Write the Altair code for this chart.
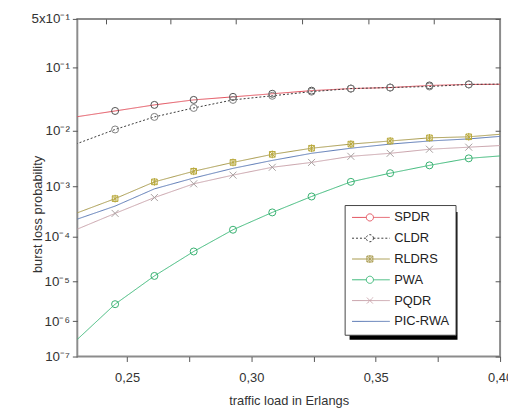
import altair as alt
import pandas as pd

FONT = "Liberation Sans"

# ---- data ----
x_load = [0.2294, 0.2452, 0.2610, 0.2768, 0.2926, 0.3084, 0.3242, 0.3400, 0.3558, 0.3716, 0.3874, 0.4032]
series_names = ["SPDR", "CLDR", "RLDRS", "PWA", "PQDR", "PIC-RWA"]
spdr = [0.0168, 0.0210, 0.0263, 0.0316, 0.0353, 0.0395, 0.0442, 0.0476, 0.0494, 0.0532, 0.0552, 0.0555]
cldr = [0.00586, 0.0104, 0.0168, 0.0235, 0.0316, 0.0367, 0.0426, 0.0476, 0.0494, 0.0513, 0.0552, 0.0560]
rldrs = [3.02e-4, 5.90e-4, 1.23e-3, 1.93e-3, 2.79e-3, 3.88e-3, 4.97e-3, 5.86e-3, 6.63e-3, 7.50e-3, 7.82e-3, 8.84e-3]
pwa = [2.87e-7, 2.75e-6, 1.34e-5, 4.80e-5, 1.40e-4, 3.16e-4, 6.49e-4, 1.23e-3, 1.78e-3, 2.47e-3, 3.30e-3, 3.73e-3]
pqdr = [1.40e-4, 3.02e-4, 6.19e-4, 1.13e-3, 1.64e-3, 2.28e-3, 2.79e-3, 3.58e-3, 4.05e-3, 4.77e-3, 5.18e-3, 5.62e-3]
picrwa = [2.26e-4, 4.22e-4, 9.08e-4, 1.45e-3, 2.18e-3, 3.03e-3, 4.05e-3, 4.97e-3, 5.86e-3, 6.63e-3, 7.20e-3, 8.15e-3]

y_tick_values = [1e-7, 1e-6, 1e-5, 1e-4, 1e-3, 1e-2, 1e-1, 0.5]
y_tick_labels = ["10⁻⁷", "10⁻⁶", "10⁻⁵", "10⁻⁴", "10⁻³", "10⁻²", "10⁻¹", "5x10⁻¹"]
x_tick_values = [0.25, 0.275, 0.30, 0.325, 0.35, 0.375, 0.40]
x_tick_labels = ["0,25", "", "0,30", "", "0,35", "", "0,40"]
top_tick_values = [0.2416, 0.2675, 0.2937, 0.3205, 0.3472, 0.3735]

# ---- styles ----
line_colors = ["#e2505c", "#3a3a3a", "#a89a4c", "#3cb878", "#c8a2aa", "#5a78b4"]
line_dash = [[1, 0], [2, 2], [1, 0], [1, 0], [1, 0], [1, 0]]
marker_colors = ["#505050", "#808080", "#b8a83a", "#38b070", "#a8a0a0", None]
marker_shapes = [
    "circle",
    "circle",
    "M-0.8,-0.8H0.8V0.8H-0.8ZM-0.8,-0.8L0.8,0.8M-0.8,0.8L0.8,-0.8M0,-1.1V1.1",
    "circle",
    "M-1,-1L1,1M-1,1L1,-1",
    None,
]
circ = "M-1,0H3.8M6.2,0H11.7M6.2,0A1.2,1.2,0,1,1,3.8,0A1.2,1.2,0,1,1,6.2,0"
legend_paths = [
    circ,
    circ,
    "M-1,0H11.7M4,-1H6V1H4ZM4,-1L6,1M4,1L6,-1M5,-1.3V1.3",
    circ,
    "M-1,0H11.7M4,-1L6,1M4,1L6,-1",
    "M-1,0H11.7",
]

rows = []
for name, vals in zip(series_names, [spdr, cldr, rldrs, pwa, pqdr, picrwa]):
    for i, (x, v) in enumerate(zip(x_load, vals)):
        rows.append({"series": name, "load": x, "p": v, "idx": i})
df = pd.DataFrame(rows)


def label_expr(values, labels, tol):
    expr = "''"
    for v, lab in reversed(list(zip(values, labels))):
        expr = f"abs(datum.value - {v}) < {tol(v)} ? '{lab}' : ({expr})"
    return expr


y_label_expr = label_expr(y_tick_values, y_tick_labels, lambda v: v * 0.01)
x_label_expr = label_expr(x_tick_values, x_tick_labels, lambda v: 1e-5)

shape_expr = "'stroke'"
for n, pth in reversed(list(zip(series_names, legend_paths))):
    shape_expr = f"datum.value === '{n}' ? '{pth}' : ({shape_expr})"

x_scale = alt.Scale(domain=[0.23, 0.40], nice=False, zero=False)
y_scale = alt.Scale(type="pow", exponent=0.05, domain=[1e-7, 0.5], nice=False, zero=False)

x_axis = alt.Axis(
    values=x_tick_values, labelExpr=x_label_expr, title="traffic load in Erlangs",
    grid=False, domain=False, tickSize=5, tickColor="#555", labelFont=FONT,
    labelFontSize=13, labelColor="#333", labelPadding=10, titleFont=FONT,
    titleFontSize=13, titleFontWeight="normal", titleColor="#333",
    titleBaseline="middle", titleY=44, labelFlush=False, labelOverlap=False,
)
y_axis = alt.Axis(
    values=y_tick_values, labelExpr=y_label_expr, title="burst loss probability",
    grid=False, domain=False, tickSize=5, tickColor="#555", labelFont=FONT,
    labelFontSize=13.5, labelColor="#333", labelPadding=3, titleFont=FONT,
    titleFontSize=13, titleFontWeight="normal", titleColor="#333",
    titleBaseline="middle", titleX=-40, titleY=197, labelFlush=False, labelOverlap=False,
)

legend = alt.Legend(
    title=None, orient="none", legendX=270, legendY=188, padding=6,
    symbolSize=36, symbolOffset=-2, labelOffset=33, rowPadding=7,
    labelFont=FONT, labelFontSize=13, labelColor="#222",
    fillColor="white", strokeColor="#444", symbolStrokeWidth=1,
    symbolType=alt.ExprRef(expr=shape_expr), symbolFillColor="transparent",
)

base = alt.Chart(df)

lines = base.mark_line(strokeWidth=1, clip=True).encode(
    x=alt.X("load:Q", scale=x_scale, axis=x_axis),
    y=alt.Y("p:Q", scale=y_scale, axis=y_axis),
    color=alt.Color("series:N", scale=alt.Scale(domain=series_names, range=line_colors), legend=legend),
    strokeDash=alt.StrokeDash("series:N", scale=alt.Scale(domain=series_names, range=line_dash), legend=None),
    order="load:Q",
)

point_layers = []
for name, shp, col in zip(series_names, marker_shapes, marker_colors):
    if shp is None:
        continue
    point_layers.append(
        base.transform_filter(
            (alt.datum.series == name) & (alt.datum.idx >= 1) & (alt.datum.idx <= 10)
        ).mark_point(filled=False, shape=shp, size=50, strokeWidth=1, opacity=1, color=col).encode(
            x=alt.X("load:Q", scale=x_scale),
            y=alt.Y("p:Q", scale=y_scale),
        )
    )

shadow = alt.Chart(pd.DataFrame({"a": [0]})).mark_rect(color="black").encode(
    x=alt.value(275), x2=alt.value(384), y=alt.value(195), y2=alt.value(324)
)

inner = alt.layer(shadow, lines, *point_layers)

frame_ticks = base.mark_point(opacity=0).encode(
    x=alt.X("load:Q", scale=x_scale, axis=alt.Axis(
        orient="top", values=top_tick_values, labels=False, domain=False, grid=False,
        tickSize=5, tickColor="#555", offset=-5, title=None)),
    y=alt.Y("p:Q", scale=y_scale, axis=alt.Axis(
        orient="right", values=y_tick_values, labels=False, domain=False, grid=False,
        tickSize=5, tickColor="#555", offset=-5, title=None)),
)

chart = alt.layer(inner, frame_ticks).resolve_scale(
    x="independent", y="independent"
).properties(
    width=427, height=341,
    autosize=alt.AutoSizeParams(type="none"),
    padding={"left": 70, "top": 9, "right": 8, "bottom": 52},
    background="white",
).configure_view(stroke="#8c8c8c", strokeWidth=2)

chart.save("out.html", embed_options={"renderer": "svg", "actions": False})
